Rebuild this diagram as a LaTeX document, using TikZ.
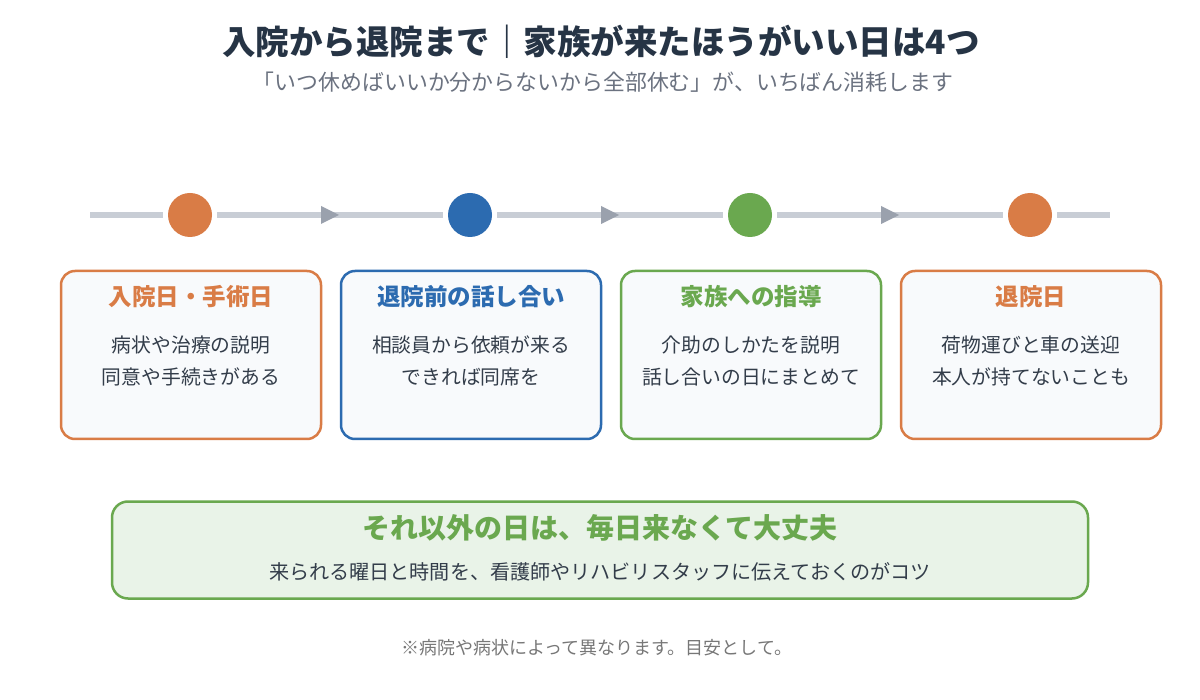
\documentclass[tikz,border=0pt]{standalone}
\usepackage{fontspec}
\setmainfont{Noto Sans CJK JP}
\usetikzlibrary{decorations.markings}
\definecolor{titlec}{RGB}{38,52,69}
\definecolor{subc}{RGB}{107,114,128}
\definecolor{linec}{RGB}{200,205,213}
\definecolor{arrowc}{RGB}{154,161,173}
\definecolor{orangec}{RGB}{217,124,70}
\definecolor{bluec}{RGB}{44,107,176}
\definecolor{greenc}{RGB}{106,168,79}
\definecolor{boxfill}{RGB}{248,250,252}
\definecolor{bodyc}{RGB}{51,61,74}
\definecolor{bottomfill}{RGB}{233,243,232}
\definecolor{footc}{RGB}{119,119,119}
\tikzset{
  dot/.style={circle, minimum size=44pt, inner sep=0pt, outer sep=5pt, draw=none},
  tl/.style={draw=linec, line width=6pt},
  tlarrow/.style={tl, postaction={decorate, decoration={markings,
      mark=at position 0.5 with {\fill[arrowc] (-9,-9) -- (9,0) -- (-9,9) -- cycle;}}}},
  stagebox/.style={rounded corners=14pt, line width=2.5pt, fill=boxfill, minimum width=260pt, minimum height=168pt, inner sep=0pt},
  boxtitle/.style={font=\fontsize{23.5}{28}\selectfont\bfseries},
  boxbody/.style={font=\fontsize{19.8}{32}\selectfont, text=bodyc, align=center},
}
\begin{document}
\begin{tikzpicture}[x=1pt, y=-1pt]
\useasboundingbox (0,0) rectangle (1200,700);
\fill[white] (0,0) rectangle (1200,700);
% titles
\node[font=\fontsize{33.5}{38}\selectfont\bfseries, text=titlec] (title) at (601,42) {入院から退院まで｜家族が来たほうがいい日は4つ};
\node[font=\fontsize{21.9}{26}\selectfont, text=subc] (sub) at (603,82) {「いつ休めばいいか分からないから全部休む」が、いちばん消耗します};
% timeline
\coordinate (L) at (90,215);
\coordinate (R) at (1110,215);
\node[dot, fill=orangec] (c1) at (190,215) {};
\node[dot, fill=bluec] (c2) at (470,215) {};
\node[dot, fill=greenc] (c3) at (750,215) {};
\node[dot, fill=orangec] (c4) at (1030,215) {};
\draw[tl] (L) -- (c1);
\draw[tlarrow] (c1) -- (c2);
\draw[tlarrow] (c2) -- (c3);
\draw[tlarrow] (c3) -- (c4);
\draw[tl] (c4) -- (R);
% stage boxes
\node[stagebox, draw=orangec] (b1) at (191,355) {};
\node[stagebox, draw=bluec] (b2) at (471,355) {};
\node[stagebox, draw=greenc] (b3) at (751,355) {};
\node[stagebox, draw=orangec] (b4) at (1031,355) {};
\node[boxtitle, text=orangec] (t1) at (191,297) {入院日・手術日};
\node[boxtitle, text=bluec] (t2) at (471,297) {退院前の話し合い};
\node[boxtitle, text=greenc] (t3) at (751,297) {家族への指導};
\node[boxtitle, text=orangec] (t4) at (1031,297) {退院日};
\node[boxbody] (d1) at (191,361) {病状や治療の説明\\同意や手続きがある};
\node[boxbody] (d2) at (471,361) {相談員から依頼が来る\\できれば同席を};
\node[boxbody] (d3) at (751,361) {介助のしかたを説明\\話し合いの日にまとめて};
\node[boxbody] (d4) at (1031,361) {荷物運びと車の送迎\\本人が持てないことも};
% bottom box
\node[rounded corners=16pt, line width=2.5pt, draw=greenc, fill=bottomfill, minimum width=976pt, minimum height=97pt, inner sep=0pt] (bottom) at (600,550) {};
\node[font=\fontsize{28}{32}\selectfont\bfseries, text=greenc] (bt) at (600,528) {それ以外の日は、毎日来なくて大丈夫};
\node[font=\fontsize{20.1}{24}\selectfont, text=bodyc] (bs) at (600,572) {来られる曜日と時間を、看護師やリハビリスタッフに伝えておくのがコツ};
% footnote
\node[font=\fontsize{18}{22}\selectfont, text=footc] (foot) at (597,648) {※病院や病状によって異なります。目安として。};
\end{tikzpicture}
\end{document}
